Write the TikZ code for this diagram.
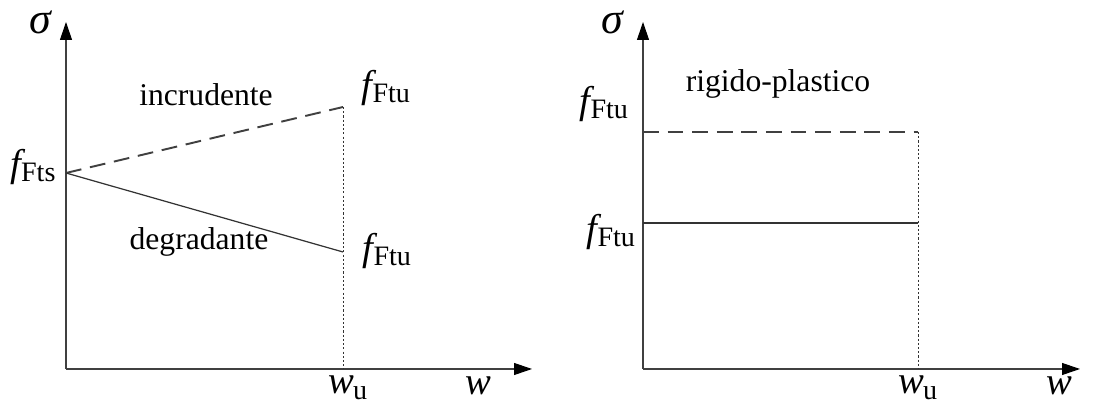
\documentclass[tikz,border=0pt]{standalone}
\usepackage{fontspec}
\setmainfont{Liberation Serif}
\usetikzlibrary{arrows.meta}

\newcommand{\fsub}[1]{\textit{f}\kern-0.12em\raisebox{-0.3ex}{\upshape\fontsize{16}{16}\selectfont #1}}
\newcommand{\wsub}[1]{\textit{w}\kern-0.04em\raisebox{-0.35ex}{\upshape\fontsize{16}{16}\selectfont #1}}

\begin{document}
\begin{tikzpicture}[x=0.02cm, y=-0.02cm,
    axis/.style={black!75, line width=0.6pt, -{Triangle[length=0.36cm, width=0.24cm, fill=black, color=black]}},
    harden/.style={black!75, line width=1.1pt, dash pattern=on 9pt off 5pt},
    soften/.style={black!80, line width=0.7pt},
    guide/.style={black!80, line width=0.5pt, dash pattern=on 1.2pt off 1.2pt},
    txt/.style={inner sep=0pt, font=\fontsize{18}{20}\selectfont},
    sym/.style={inner sep=0pt, font=\fontsize{22}{24}\selectfont}
]
\useasboundingbox (0,0) rectangle (1103,404);

% sinistra
\coordinate (O1) at (66,369);
\coordinate (Y1) at (66,22);
\coordinate (X1) at (532,369);
\coordinate (S1) at (66,173);
\coordinate (U1) at (343,107);
\coordinate (D1) at (343,252);
\coordinate (W1) at (343,369);

\draw[axis] (O1) -- (Y1);
\draw[axis] (O1) -- (X1);
\draw[harden] (S1) -- (U1);
\draw[soften] (S1) -- (D1);
\draw[guide] (U1) -- (W1);

\node[sym] (sig1)  at (41,22)   {\fontsize{25}{26}\selectfont\textit{σ}};
\node[sym] (fts)   at (33,167)  {\fsub{Fts}};
\node[txt] (inc)   at (206,95)  {incrudente};
\node[sym] (ftu1)  at (386,88)  {\fsub{Ftu}};
\node[txt] (deg)   at (199,242) {degradante};
\node[sym] (ftu2)  at (387,251) {\fsub{Ftu}};
\node[sym] (wu1)   at (348,388) {\wsub{u}};
\node[sym] (w1)    at (478,386) {\textit{w}};

% destra
\coordinate (O2) at (643,369);
\coordinate (Y2) at (643,22);
\coordinate (X2) at (1080,369);
\coordinate (P2) at (643,132);
\coordinate (Q2) at (918,132);
\coordinate (R2) at (643,223);
\coordinate (T2) at (918,223);
\coordinate (W2) at (918,369);

\draw[axis] (O2) -- (Y2);
\draw[axis] (O2) -- (X2);
\draw[harden] (P2) -- (Q2);
\draw[soften] (R2) -- (T2);
\draw[guide] (Q2) -- (W2);

\node[sym] (sig2)  at (613,22)  {\fontsize{25}{26}\selectfont\textit{σ}};
\node[sym] (ftu3)  at (604,104) {\fsub{Ftu}};
\node[txt] (rig)   at (778,84)  {rigido-plastico};
\node[sym] (ftu4)  at (611,232) {\fsub{Ftu}};
\node[sym] (wu2)   at (918,388) {\wsub{u}};
\node[sym] (w2)    at (1059,386) {\textit{w}};
\end{tikzpicture}
\end{document}
